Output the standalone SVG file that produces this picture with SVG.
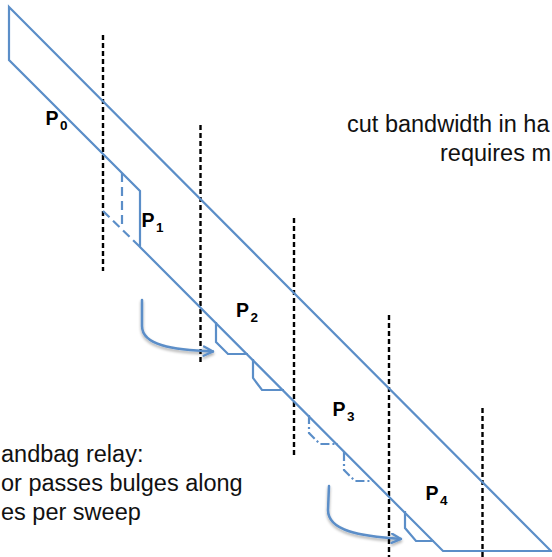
<svg xmlns="http://www.w3.org/2000/svg" width="552" height="557" viewBox="0 0 552 557">
  <style>
    .band { fill: none; stroke: #5b8ec8; stroke-width: 2.2; stroke-linejoin: miter; }
    .dash { fill: none; stroke: #5b8ec8; stroke-width: 2.2; stroke-dasharray: 9 5; }
    .dashdot { fill: none; stroke: #5b8ec8; stroke-width: 2.2; stroke-dasharray: 9 3 2 3; }
    .cut { fill: none; stroke: #000; stroke-width: 2.4; stroke-dasharray: 5 3; }
    .flow { fill: none; stroke: #5b8ec8; stroke-width: 2.5; stroke-linecap: round; filter: url(#soft); }
    .lbl { font-family: "Liberation Sans", Arial, sans-serif; font-weight: bold; font-size: 19.5px; fill: #000; }
    .sub { font-size: 13.5px; }
    .note { font-family: "Liberation Sans", Arial, sans-serif; font-size: 23.5px; fill: #111; }
  </style>
  <defs>
    <marker id="head" viewBox="0 0 10 10" refX="9" refY="5" markerWidth="4.6" markerHeight="4.6" orient="auto" markerUnits="strokeWidth">
      <path d="M1,1 L9,5 L1,9" fill="none" stroke="#5b8ec8" stroke-width="2" stroke-linecap="round" stroke-linejoin="round"/>
    </marker>
    <filter id="soft" x="-20%" y="-20%" width="140%" height="160%">
      <feGaussianBlur in="SourceAlpha" stdDeviation="1.5"/>
      <feOffset dx="0" dy="2" result="b"/>
      <feComponentTransfer><feFuncA type="linear" slope="0.35"/></feComponentTransfer>
      <feMerge><feMergeNode/><feMergeNode in="SourceGraphic"/></feMerge>
    </filter>
  </defs>

  <!-- processor boundaries -->
  <g id="cuts">
    <line class="cut" x1="103" y1="35" x2="103" y2="271"/>
    <line class="cut" x1="200.5" y1="125" x2="200.5" y2="362"/>
    <line class="cut" x1="294" y1="218" x2="294" y2="455"/>
    <line class="cut" x1="389" y1="315" x2="389" y2="557"/>
    <line class="cut" x1="482.5" y1="408" x2="482.5" y2="557"/>
  </g>

  <!-- banded matrix outline -->
  <g id="band">
    <path class="band" d="M9,7 L551,551 L443,551 L140,247 L140,191 L9,60 Z"/>
  </g>

  <!-- P1: previous band edge -->
  <g id="p1-old">
    <path class="dash" d="M122,173 L122,227"/>
    <path class="dash" d="M103,211 L140,247"/>
  </g>

  <!-- P2 bulges -->
  <g id="p2-bulges">
    <path class="band" d="M216,322 L216,342 L228,354 L248,354"/>
    <path class="band" d="M253,359 L253,378 L262,390 L284,390"/>
  </g>

  <!-- P3 bulges (passed on) -->
  <g id="p3-bulges">
    <path class="dashdot" d="M309,415 L309,433 L320,444 L338,444"/>
    <path class="dashdot" d="M344,452 L344,470 L355,481 L374,481"/>
  </g>

  <!-- P4 bulge -->
  <g id="p4-bulge">
    <path class="band" d="M405,511 L405,528 L416,541 L434,541"/>
  </g>

  <!-- relay arrows -->
  <g id="connectors">
    <path class="flow" d="M142,300 L142,326 C142,345 172,350 213,351.5" marker-end="url(#head)"/>
    <path class="flow" d="M329,486 L328,510 C328,531 360,536 401,539" marker-end="url(#head)"/>
  </g>

  <!-- labels -->
  <g id="P0"><text class="lbl" x="45.5" y="125">P<tspan class="sub" x="60" y="130">0</tspan></text></g>
  <g id="P1"><text class="lbl" x="141.5" y="227">P<tspan class="sub" x="156" y="232">1</tspan></text></g>
  <g id="P2"><text class="lbl" x="236" y="317">P<tspan class="sub" x="250.5" y="322">2</tspan></text></g>
  <g id="P3"><text class="lbl" x="332.5" y="416">P<tspan class="sub" x="347" y="421">3</tspan></text></g>
  <g id="P4"><text class="lbl" x="425.5" y="500">P<tspan class="sub" x="440" y="505">4</tspan></text></g>

  <!-- notes -->
  <g id="note-right">
    <text class="note" x="347" y="132">cut bandwidth in ha</text>
    <text class="note" x="440" y="161">requires m</text>
  </g>
  <g id="note-left">
    <text class="note" x="1" y="462">andbag relay:</text>
    <text class="note" x="1" y="491">or passes bulges along</text>
    <text class="note" x="1" y="520">es per sweep</text>
  </g>
</svg>
